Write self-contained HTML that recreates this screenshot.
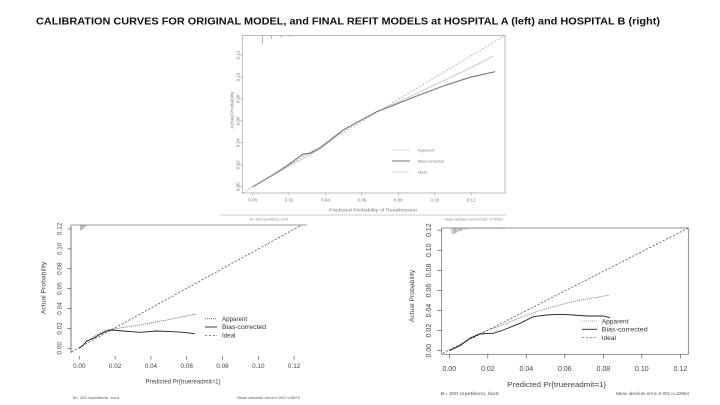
<!DOCTYPE html>
<html><head><meta charset="utf-8"><style>
html,body{margin:0;padding:0;background:#fff;}
svg{display:block;font-family:"Liberation Sans",sans-serif;}
</style></head><body>
<svg width="720" height="405" viewBox="0 0 720 405" xmlns="http://www.w3.org/2000/svg">
<rect width="720" height="405" fill="#fff"/>
<!-- Title -->
<text x="36" y="24.3" font-size="10.5" font-weight="bold" fill="#111" textLength="624" lengthAdjust="spacingAndGlyphs">CALIBRATION CURVES FOR ORIGINAL MODEL, and FINAL REFIT MODELS at HOSPITAL A (left) and HOSPITAL B (right)</text>

<!-- ============ TOP CHART ============ -->
<g>
<rect x="242.3" y="35.5" width="262.7" height="157.5" fill="none" stroke="#aaa" stroke-width="0.8"/>
<!-- ticks x -->
<g stroke="#999" stroke-width="0.6">
<line x1="252.7" y1="193" x2="252.7" y2="195.5"/><line x1="289.1" y1="193" x2="289.1" y2="195.5"/><line x1="325.5" y1="193" x2="325.5" y2="195.5"/><line x1="361.9" y1="193" x2="361.9" y2="195.5"/><line x1="398.3" y1="193" x2="398.3" y2="195.5"/><line x1="434.7" y1="193" x2="434.7" y2="195.5"/><line x1="471.1" y1="193" x2="471.1" y2="195.5"/>
<line x1="239.5" y1="186.7" x2="242.3" y2="186.7"/><line x1="239.5" y1="164.8" x2="242.3" y2="164.8"/><line x1="239.5" y1="142.8" x2="242.3" y2="142.8"/><line x1="239.5" y1="120.9" x2="242.3" y2="120.9"/><line x1="239.5" y1="98.9" x2="242.3" y2="98.9"/><line x1="239.5" y1="77" x2="242.3" y2="77"/><line x1="239.5" y1="55" x2="242.3" y2="55"/>
</g>
<g font-size="4.5" fill="#777" text-anchor="middle">
<text x="252.7" y="201.6">0.00</text><text x="289.1" y="201.6">0.02</text><text x="325.5" y="201.6">0.04</text><text x="361.9" y="201.6">0.06</text><text x="398.3" y="201.6">0.08</text><text x="434.7" y="201.6">0.10</text><text x="471.1" y="201.6">0.12</text>
<text transform="translate(239.3,186.7) rotate(-90)">0.00</text>
<text transform="translate(239.3,164.8) rotate(-90)">0.02</text>
<text transform="translate(239.3,142.8) rotate(-90)">0.04</text>
<text transform="translate(239.3,120.9) rotate(-90)">0.06</text>
<text transform="translate(239.3,98.9) rotate(-90)">0.08</text>
<text transform="translate(239.3,77) rotate(-90)">0.10</text>
<text transform="translate(239.3,55) rotate(-90)">0.12</text>
<text x="373" y="211.5" font-size="4.8" textLength="88" lengthAdjust="spacingAndGlyphs">Predicted Probability of Readmission</text>
<text transform="translate(233.3,110) rotate(-90)" font-size="4.8">Actual Probability</text>
</g>
<line x1="220" y1="215" x2="507" y2="215" stroke="#999" stroke-width="0.6"/>
<text x="250" y="220.3" font-size="3.6" fill="#888">B= 200 repetitions, boot</text>
<text x="503" y="220.3" font-size="3.6" fill="#888" text-anchor="end">Mean absolute error=0.001 n=26201</text>
<!-- rug -->
<g stroke="#999" stroke-width="0.8">
<line x1="262.3" y1="35.5" x2="262.3" y2="44"/><line x1="271.7" y1="35.5" x2="271.7" y2="39"/><line x1="281" y1="35.5" x2="281" y2="37.5"/><line x1="290" y1="35.5" x2="290" y2="37"/>
</g>
<!-- ideal -->
<line x1="242.3" y1="193" x2="505" y2="35.5" stroke="#aaa" stroke-width="0.8" stroke-dasharray="2,1.5"/>
<!-- apparent -->
<polyline fill="none" stroke="#c8c8c8" stroke-width="1" points="252.7,186.7 286.7,167.3 310,155 330,141.7 343.3,130 376.7,111.7 410,96.7 443.3,80.7 470,68.3 493.3,56"/>
<!-- bias-corrected -->
<polyline fill="none" stroke="#777" stroke-width="1.1" points="252.7,186.7 270,176.7 286.7,166 302.7,154.3 310,153.3 320,148.3 330,140 343.3,130 360,120.7 376.7,111.7 396.7,104 416.7,96 443.3,86 470,77.3 495,71.7"/>
<!-- legend -->
<line x1="392" y1="150" x2="410" y2="150" stroke="#ccc" stroke-width="0.8"/>
<line x1="392" y1="161" x2="410" y2="161" stroke="#777" stroke-width="1"/>
<line x1="392" y1="172" x2="410" y2="172" stroke="#aaa" stroke-width="0.8" stroke-dasharray="2,1.5"/>
<g font-size="4" fill="#777">
<text x="418" y="151.4">Apparent</text><text x="418" y="162.4">Bias-corrected</text><text x="418" y="173.4">Ideal</text>
</g>
</g>

<!-- ============ BOTTOM LEFT CHART ============ -->
<g>
<line x1="71" y1="225" x2="71" y2="353" stroke="#555" stroke-width="0.8"/>
<line x1="71" y1="225" x2="307" y2="225" stroke="#c4c4c4" stroke-width="1.8"/>
<g stroke="#555" stroke-width="0.7">
<line x1="79.3" y1="356" x2="79.3" y2="359.5"/><line x1="115.1" y1="356" x2="115.1" y2="359.5"/><line x1="150.9" y1="356" x2="150.9" y2="359.5"/><line x1="186.7" y1="356" x2="186.7" y2="359.5"/><line x1="222.5" y1="356" x2="222.5" y2="359.5"/><line x1="258.3" y1="356" x2="258.3" y2="359.5"/><line x1="294.1" y1="356" x2="294.1" y2="359.5"/>
<line x1="67.5" y1="348.3" x2="71" y2="348.3"/><line x1="67.5" y1="328.4" x2="71" y2="328.4"/><line x1="67.5" y1="308.5" x2="71" y2="308.5"/><line x1="67.5" y1="288.6" x2="71" y2="288.6"/><line x1="67.5" y1="268.7" x2="71" y2="268.7"/><line x1="67.5" y1="248.8" x2="71" y2="248.8"/><line x1="67.5" y1="228.9" x2="71" y2="228.9"/>
</g>
<g font-size="6.4" fill="#444" text-anchor="middle">
<text x="79.3" y="368.1">0.00</text><text x="115.1" y="368.1">0.02</text><text x="150.9" y="368.1">0.04</text><text x="186.7" y="368.1">0.06</text><text x="222.5" y="368.1">0.08</text><text x="258.3" y="368.1">0.10</text><text x="294.1" y="368.1">0.12</text>
<text transform="translate(61.4,348.3) rotate(-90)">0.00</text>
<text transform="translate(61.4,328.4) rotate(-90)">0.02</text>
<text transform="translate(61.4,308.5) rotate(-90)">0.04</text>
<text transform="translate(61.4,288.6) rotate(-90)">0.06</text>
<text transform="translate(61.4,268.7) rotate(-90)">0.08</text>
<text transform="translate(61.4,248.8) rotate(-90)">0.10</text>
<text transform="translate(61.4,228.9) rotate(-90)">0.12</text>
<text x="183" y="383.5" font-size="6.8" textLength="75" lengthAdjust="spacingAndGlyphs">Predicted Pr{truereadmit=1}</text>
<text transform="translate(45.5,288) rotate(-90)" font-size="6.8">Actual Probability</text>
</g>
<text x="73" y="399" font-size="4" fill="#555" textLength="46" lengthAdjust="spacingAndGlyphs">B= 200 repetitions, boot</text>
<text x="300" y="399" font-size="4" fill="#555" text-anchor="end">Mean absolute error=0.002 n=8574</text>
<!-- rug -->
<g stroke="#888" stroke-width="0.6">
<line x1="80.5" y1="225" x2="80.5" y2="230"/><line x1="81.5" y1="225" x2="81.5" y2="230.5"/><line x1="82.5" y1="225" x2="82.5" y2="229.5"/><line x1="83.5" y1="225" x2="83.5" y2="228.5"/><line x1="84.5" y1="225" x2="84.5" y2="227.5"/><line x1="86" y1="225" x2="86" y2="227"/>
</g>
<!-- ideal -->
<line x1="71.7" y1="351.7" x2="301.7" y2="225" stroke="#444" stroke-width="0.7" stroke-dasharray="2.2,1.6"/>
<!-- apparent -->
<polyline fill="none" stroke="#444" stroke-width="0.8" stroke-dasharray="0.9,1.1" points="79.3,348.3 86.7,341.7 96.7,335 106.7,330 113.3,329 140,325 166.7,320 195,314.3"/>
<!-- bias-corrected -->
<polyline fill="none" stroke="#222" stroke-width="0.9" points="79.3,348.3 83.3,345 86.7,341 93.3,338.3 100,334.3 106.7,331 111.7,330 123.3,331 140,332.3 156.7,331 173.3,331.7 183.3,332.3 195,333.7"/>
<!-- legend -->
<line x1="205" y1="318.7" x2="217" y2="318.7" stroke="#444" stroke-width="0.8" stroke-dasharray="0.9,1.1"/>
<line x1="205" y1="327" x2="217" y2="327" stroke="#222" stroke-width="0.9"/>
<line x1="205" y1="335.3" x2="217" y2="335.3" stroke="#444" stroke-width="0.7" stroke-dasharray="2.2,1.6"/>
<g font-size="6.2" fill="#333">
<text x="222" y="320.9">Apparent</text><text x="222" y="329.2" textLength="44" lengthAdjust="spacingAndGlyphs">Bias-corrected</text><text x="222" y="337.5">Ideal</text>
</g>
</g>

<!-- ============ BOTTOM RIGHT CHART ============ -->
<g>
<rect x="441.7" y="228" width="246.6" height="126.3" fill="none" stroke="#666" stroke-width="0.7"/>
<g stroke="#555" stroke-width="0.7">
<line x1="449.3" y1="354.3" x2="449.3" y2="358.5"/><line x1="487.8" y1="354.3" x2="487.8" y2="358.5"/><line x1="526.3" y1="354.3" x2="526.3" y2="358.5"/><line x1="564.8" y1="354.3" x2="564.8" y2="358.5"/><line x1="603.3" y1="354.3" x2="603.3" y2="358.5"/><line x1="641.8" y1="354.3" x2="641.8" y2="358.5"/><line x1="680.3" y1="354.3" x2="680.3" y2="358.5"/>
<line x1="437.3" y1="350.7" x2="441.7" y2="350.7"/><line x1="437.3" y1="330.6" x2="441.7" y2="330.6"/><line x1="437.3" y1="310.5" x2="441.7" y2="310.5"/><line x1="437.3" y1="290.5" x2="441.7" y2="290.5"/><line x1="437.3" y1="270.4" x2="441.7" y2="270.4"/><line x1="437.3" y1="250.3" x2="441.7" y2="250.3"/><line x1="437.3" y1="230.2" x2="441.7" y2="230.2"/>
</g>
<g font-size="7" fill="#444" text-anchor="middle">
<text x="449.3" y="370.8">0.00</text><text x="487.8" y="370.8">0.02</text><text x="526.3" y="370.8">0.04</text><text x="564.8" y="370.8">0.06</text><text x="603.3" y="370.8">0.08</text><text x="641.8" y="370.8">0.10</text><text x="680.3" y="370.8">0.12</text>
<text transform="translate(431.2,350.7) rotate(-90)">0.00</text>
<text transform="translate(431.2,330.6) rotate(-90)">0.02</text>
<text transform="translate(431.2,310.5) rotate(-90)">0.04</text>
<text transform="translate(431.2,290.5) rotate(-90)">0.06</text>
<text transform="translate(431.2,270.4) rotate(-90)">0.08</text>
<text transform="translate(431.2,250.3) rotate(-90)">0.10</text>
<text transform="translate(431.2,230.2) rotate(-90)">0.12</text>
<text x="556.7" y="386.8" font-size="7.6" textLength="99" lengthAdjust="spacingAndGlyphs">Predicted Pr{truereadmit=1}</text>
<text transform="translate(414,296) rotate(-90)" font-size="6.8">Actual Probability</text>
</g>
<text x="440.7" y="395" font-size="4.5" fill="#555" textLength="58" lengthAdjust="spacingAndGlyphs">B= 200 repetitions, boot</text>
<text x="689" y="395" font-size="4.5" fill="#555" text-anchor="end">Mean absolute error=0.001 n=22964</text>
<!-- rug -->
<g stroke="#888" stroke-width="0.6">
<line x1="452" y1="228" x2="452" y2="234"/><line x1="453.2" y1="228" x2="453.2" y2="234"/><line x1="454.4" y1="228" x2="454.4" y2="233.5"/><line x1="455.6" y1="228" x2="455.6" y2="233"/><line x1="456.8" y1="228" x2="456.8" y2="232.5"/><line x1="458" y1="228" x2="458" y2="232"/><line x1="459.2" y1="228" x2="459.2" y2="231.5"/><line x1="460.4" y1="228" x2="460.4" y2="231"/><line x1="461.6" y1="228" x2="461.6" y2="230.5"/><line x1="463" y1="228" x2="463" y2="230"/><line x1="465" y1="228" x2="465" y2="229.8"/><line x1="467" y1="228" x2="467" y2="229.5"/><line x1="469.5" y1="228" x2="469.5" y2="229.3"/><line x1="472.5" y1="228" x2="472.5" y2="229"/>
</g>
<line x1="472" y1="228.8" x2="507" y2="228.8" stroke="#bbb" stroke-width="0.6" stroke-dasharray="1,1.5"/>
<!-- ideal -->
<line x1="442.7" y1="353.3" x2="688.3" y2="228" stroke="#444" stroke-width="0.7" stroke-dasharray="2.2,1.6"/>
<!-- apparent -->
<polyline fill="none" stroke="#555" stroke-width="0.8" stroke-dasharray="0.9,1.1" points="449.3,350.7 460,345 470,337.7 480,333.3 490,329.3 503.3,325 520,317.7 536.7,311.7 553.3,306.7 570,302.3 586.7,299 610,295"/>
<!-- bias-corrected -->
<polyline fill="none" stroke="#222" stroke-width="0.9" points="449.3,350.7 460,345.7 470,338.3 480,334 490,333.3 493.3,333.3 503.3,330 520,323.3 533.3,316.7 546.7,315 560,314.3 573.3,315 586.7,316 603.3,316 610,317.7"/>
<!-- legend -->
<line x1="582" y1="321" x2="597" y2="321" stroke="#888" stroke-width="0.8" stroke-dasharray="0.9,1.1"/>
<line x1="582" y1="329.3" x2="597" y2="329.3" stroke="#222" stroke-width="0.9"/>
<line x1="582" y1="337.7" x2="597" y2="337.7" stroke="#444" stroke-width="0.7" stroke-dasharray="2.2,1.6"/>
<g font-size="6.6" fill="#333">
<text x="601.7" y="323.3">Apparent</text><text x="601.7" y="331.6" textLength="46" lengthAdjust="spacingAndGlyphs">Bias-corrected</text><text x="601.7" y="340">Ideal</text>
</g>
</g>
</svg>
</body></html>
